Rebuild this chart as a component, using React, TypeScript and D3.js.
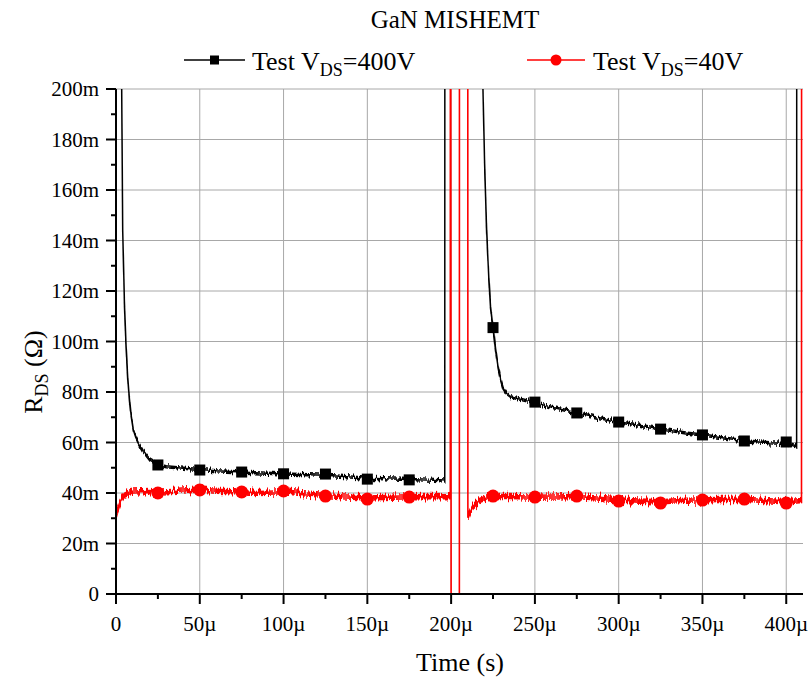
import React from "react";
import * as d3 from "d3";

// Time axis in µs, resistance in mΩ
const xTickValues = [0, 50, 100, 150, 200, 250, 300, 350, 400];
const yTickValues = [0, 20, 40, 60, 80, 100, 120, 140, 160, 180, 200];

// Test VDS = 400 V trace (time µs, RDS mΩ); values beyond 200 leave the plot
const blackT = [
  3.2, 3.4, 4.0, 5.0, 6.0, 7.0, 8.0, 9.0, 10.3, 11.8, 13.3, 16.3, 20.3, 25, 30, 40, 50, 60, 75, 90,
  100, 115, 125, 140, 150, 165, 175, 190, 196.2, 196.3,
  218.6, 219.0, 220.0, 221.2, 222.5, 223.5, 225, 226.5, 228, 229.5, 231, 233, 236, 240, 245, 250,
  260, 275, 290, 300, 315, 325, 340, 350, 365, 375, 390, 400, 406.2, 406.3,
];
const blackR = [
  240, 200, 144, 116, 98, 86, 77, 70.5, 65, 62, 60, 56.4, 53, 51.2, 50.4, 49.8, 49.3, 48.8, 48.3, 47.8,
  47.5, 47.2, 47.0, 46.3, 45.8, 45.5, 45.3, 45.0, 44.8, 400,
  260, 200, 170, 144, 125, 114, 105.5, 97, 90, 85, 81.5, 79.5, 78, 77.3, 76.5, 75.8,
  74.0, 71.8, 69.6, 68.2, 66.5, 65.4, 63.8, 63.0, 61.6, 60.7, 59.9, 59.6, 58.2, 400,
];

// Test VDS = 40 V trace
const redT = [
  0, 0.8, 2.4, 4, 5.4, 8, 10.3, 15, 20, 25, 30, 40, 50, 60, 75, 85, 100, 110, 125, 135, 150, 160,
  175, 185, 199.5, 199.6, 200.1, 204.9, 205.0, 209.9, 210.0, 211.5, 213, 215, 217, 220, 225, 235,
  250, 262, 275, 287, 300, 312, 325, 337, 350, 362, 375, 387, 400, 409.1, 409.2,
];
const redR = [
  31.5, 33.5, 36.5, 38.3, 39.2, 40.0, 40.4, 40.5, 40.6, 40.3, 40.5, 40.8, 41.2, 40.7, 40.4, 40.2,
  40.5, 39.8, 39.0, 38.5, 38.0, 38.2, 38.5, 38.6, 38.5, 400, -100, -100, 400, 400, 30.6, 33, 34.8,
  36, 37, 37.8, 38.6, 38.6, 38.3, 38.4, 38.6, 38.0, 37.2, 36.8, 36.5, 37.0, 37.3, 37.4, 37.5, 37.0,
  36.5, 37.0, 400,
];

// Symbol positions along both traces
const markerT = [25, 50, 75, 100, 125, 150, 175, 225, 250, 275, 300, 325, 350, 375, 400];
const blackMarkR = [51.1, 49.1, 48.3, 47.6, 47.5, 45.5, 45.2, 105.5, 76.0, 71.7, 68.1, 65.3, 63.0, 60.6, 60.2];
const redMarkR = [40.0, 41.2, 40.4, 40.8, 38.8, 37.6, 38.4, 38.8, 38.4, 38.8, 36.8, 36.0, 37.2, 37.6, 36.0];

const FONT = "'Liberation Serif', 'Times New Roman', serif";
const W = 809;
const H = 678;
const M = { left: 116, right: 803, top: 89, bottom: 594 };

// Vertical-only fuzz for the sampled signal: widen flat stretches, then jitter in y
function NoiseFilter({ id, seed, spread, amount }: { id: string; seed: number; spread: number; amount: number }) {
  return (
    <filter id={id} x="-2%" y="-2%" width="104%" height="104%" colorInterpolationFilters="sRGB">
      <feMorphology in="SourceGraphic" operator="dilate" radius={`0 ${spread}`} result="d" />
      <feTurbulence type="fractalNoise" baseFrequency="0.6 0.03" numOctaves={2} seed={seed} result="t" />
      <feColorMatrix in="t" type="matrix" values="0 0 0 0 0.5  0 1 0 0 0  0 0 0 0 0  0 0 0 0 1" result="m" />
      <feDisplacementMap in="d" in2="m" scale={amount} xChannelSelector="R" yChannelSelector="G" />
    </filter>
  );
}

export default function App() {
  const x = d3.scaleLinear().domain([0, 410]).range([M.left, M.right]);
  const y = d3.scaleLinear().domain([0, 200]).range([M.bottom, M.top]);

  const line = d3
    .line<[number, number]>()
    .x((d) => x(d[0]))
    .y((d) => y(d[1]));

  const blackPath = line(blackT.map((t, i) => [t, blackR[i]] as [number, number])) || "";
  const redPath = line(redT.map((t, i) => [t, redR[i]] as [number, number])) || "";

  const xMinor = d3.range(0, 411, 25);
  const yMinor = d3.range(0, 201, 10);

  return (
    <svg width={W} height={H} style={{ position: "absolute", left: 0, top: 0, background: "#fff" }} fontFamily={FONT}>
      <defs>
        <clipPath id="plotClip">
          <rect x={M.left} y={M.top} width={M.right - M.left} height={M.bottom - M.top} />
        </clipPath>
        <NoiseFilter id="jitterRed" seed={4} spread={1.5} amount={12} />
        <NoiseFilter id="jitterBlack" seed={9} spread={0.8} amount={8} />
      </defs>

      {/* title */}
      <text x={455} y={28} textAnchor="middle" fontSize={25}>GaN MISHEMT</text>

      {/* legend */}
      <g>
        <line x1={184} x2={245} y1={60} y2={60} stroke="#000" strokeWidth={1.3} />
        <rect x={214.5 - 4.5} y={60 - 4.5} width={9} height={9} fill="#000" />
        <text x={252} y={70} fontSize={26}>
          Test V<tspan dy={6} fontSize={18}>DS</tspan><tspan dy={-6}>=400V</tspan>
        </text>
        <line x1={527} x2={585} y1={60} y2={60} stroke="#ff0000" strokeWidth={1.3} />
        <circle cx={556} cy={60} r={5.5} fill="#ff0000" />
        <text x={593} y={70} fontSize={26}>
          Test V<tspan dy={6} fontSize={18}>DS</tspan><tspan dy={-6}>=40V</tspan>
        </text>
      </g>

      {/* grid */}
      <g stroke="#a8a8a8" strokeWidth={1}>
        {yTickValues.filter((v) => v > 0).map((v) => (
          <line key={"gy" + v} x1={M.left} x2={M.right} y1={y(v)} y2={y(v)} />
        ))}
        {xTickValues.filter((v) => v > 0).map((v) => (
          <line key={"gx" + v} x1={x(v)} x2={x(v)} y1={M.top} y2={M.bottom} />
        ))}
      </g>

      {/* traces */}
      <g clipPath="url(#plotClip)">
        <path d={blackPath} fill="none" stroke="#000" strokeWidth={1.5} filter="url(#jitterBlack)" />
        <path d={redPath} fill="none" stroke="#ff0000" strokeWidth={1.6} filter="url(#jitterRed)" />
        {markerT.map((t, i) => (
          <rect key={"bs" + t} x={x(t) - 5.5} y={y(blackMarkR[i]) - 5.5} width={11} height={11} fill="#000" />
        ))}
        {markerT.map((t, i) => (
          <circle key={"rc" + t} cx={x(t)} cy={y(redMarkR[i])} r={6.5} fill="#ff0000" />
        ))}
      </g>

      {/* y axis */}
      <g>
        <line x1={M.left} x2={M.left} y1={M.top} y2={M.bottom} stroke="#000" strokeWidth={2} />
        {yMinor.map((v) => (
          <line key={"ty" + v} x1={M.left} x2={M.left - (v % 20 === 0 ? 10 : 5)} y1={y(v)} y2={y(v)} stroke="#000" strokeWidth={2} />
        ))}
        {yTickValues.map((v) => (
          <text key={"ly" + v} x={99} y={y(v) + 7} textAnchor="end" fontSize={21}>
            {v === 0 ? "0" : `${v}m`}
          </text>
        ))}
      </g>

      {/* x axis */}
      <g>
        <line x1={M.left - 1} x2={M.right} y1={M.bottom} y2={M.bottom} stroke="#000" strokeWidth={2} />
        {xMinor.map((v) => (
          <line key={"tx" + v} x1={x(v)} x2={x(v)} y1={M.bottom} y2={M.bottom + (v % 50 === 0 ? 10 : 5)} stroke="#000" strokeWidth={2} />
        ))}
        {xTickValues.map((v) => (
          <text key={"lx" + v} x={x(v)} y={631} textAnchor="middle" fontSize={21}>
            {v === 0 ? "0" : `${v}µ`}
          </text>
        ))}
      </g>

      {/* axis titles */}
      <text x={460} y={671} textAnchor="middle" fontSize={26}>Time (s)</text>
      <text transform="translate(42,372) rotate(-90)" textAnchor="middle" fontSize={26}>
        R<tspan dy={6} fontSize={18}>DS</tspan><tspan dy={-6}> (Ω)</tspan>
      </text>
    </svg>
  );
}
